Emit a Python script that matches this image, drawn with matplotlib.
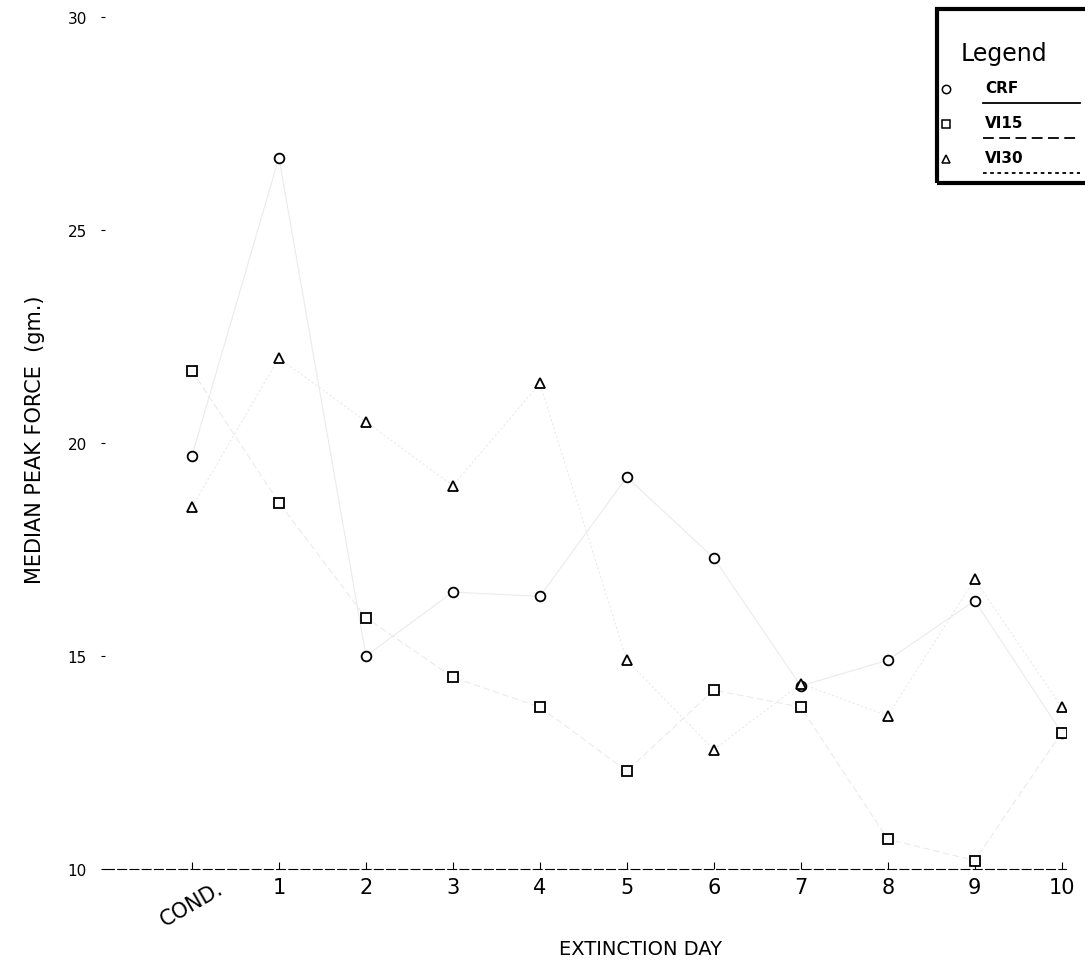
import numpy as np
import matplotlib
matplotlib.use("Agg")
import matplotlib.pyplot as plt
from matplotlib.lines import Line2D
from matplotlib.patches import Rectangle

# x positions: 0 = conditioning, 1..10 = extinction days
days = [0, 1, 2, 3, 4, 5, 6, 7, 8, 9, 10]
day_labels = ["COND.", "1", "2", "3", "4", "5", "6", "7", "8", "9", "10"]

# median peak force (gm.)
crf = [19.7, 26.7, 15.0, 16.5, 16.4, 19.2, 17.3, 14.3, 14.9, 16.3, 13.2]
vi15 = [21.7, 18.6, 15.9, 14.5, 13.8, 12.3, 14.2, 13.8, 10.7, 10.2, 13.2]
vi30 = [18.5, 22.0, 20.5, 19.0, 21.4, 14.9, 12.8, 14.35, 13.6, 16.8, 13.8]

names = ["CRF", "VI15", "VI30"]
markers = ["o", "s", "^"]
styles = ["-", (0, (6, 3)), (0, (2, 2))]

fig = plt.figure(figsize=(10.85, 9.78), dpi=100)
ax = fig.add_axes([0.0968, 0.1104, 0.8857, 0.8712])

# the connecting lines have almost faded out of the scan
for vals, m, ls in zip([crf, vi15, vi30], markers, styles):
    ax.plot(days, vals, color="0.92", lw=0.8, ls=ls, zorder=1)
    ax.plot(days, vals, ls="none", marker=m, ms=7, mfc="white", mec="black",
            mew=1.3, zorder=3)

ax.set_xlim(-1.0, 10.05)
ax.set_ylim(10, 30)
ax.set_yticks([10, 15, 20, 25, 30])
ax.set_xticks(days)
ax.set_xticklabels(day_labels, fontsize=15)
lab = ax.get_xticklabels()[0]
lab.set_rotation(30)
lab.set_ha("center")
lab.set_va("top")
ax.tick_params(axis="y", labelsize=11, length=3, direction="out", pad=10)
ax.tick_params(axis="x", length=5, direction="in", pad=6)

for s in ["top", "right", "left"]:
    ax.spines[s].set_visible(False)
ax.spines["bottom"].set_linestyle((0, (8, 3)))
ax.spines["bottom"].set_linewidth(0.8)

ax.set_xlabel("EXTINCTION DAY", fontsize=14)
ax.xaxis.set_label_coords(0.557, -0.082)
ax.set_ylabel("MEDIAN PEAK FORCE  (gm.)", fontsize=15)
ax.yaxis.set_label_coords(-0.062, 0.505)

# hand drawn legend box in the upper right corner
fig.patches.append(Rectangle((0.864, 0.812), 0.14, 0.178, transform=fig.transFigure,
                             fill=False, ec="black", lw=3))
fig.text(0.925, 0.945, "Legend", fontsize=17, ha="center", va="center")
for i, (nm, m, ls) in enumerate(zip(names, markers, styles)):
    yy = 0.908 - i * 0.036
    fig.lines.append(Line2D([0.872], [yy], transform=fig.transFigure, ls="none",
                            marker=m, ms=6, mfc="white", mec="black", mew=1.1))
    fig.text(0.908, yy + 0.002, nm, fontsize=11, fontweight="bold", ha="left", va="center")
    fig.lines.append(Line2D([0.906, 0.995], [yy - 0.014, yy - 0.014],
                            transform=fig.transFigure, color="black", lw=1.3, ls=ls))

fig.savefig("out.png", dpi=100)
